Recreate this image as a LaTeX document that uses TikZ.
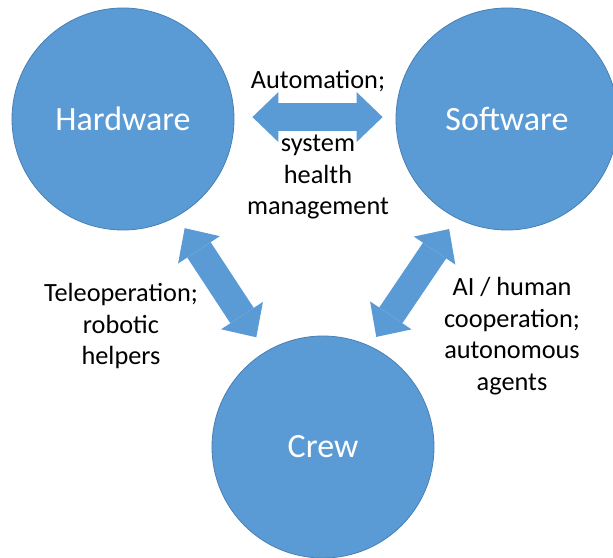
\documentclass[tikz,border=0pt]{standalone}
\usepackage{fontspec}
\setmainfont{Carlito}
\usetikzlibrary{arrows.meta}
\definecolor{bubble}{RGB}{91,155,213}
\definecolor{bubbleline}{RGB}{72,128,180}
\tikzset{
  bubble/.style={circle, fill=bubble, draw=bubbleline, line width=0.8pt,
    minimum size=222pt, inner sep=0pt, text=white,
    font=\fontsize{34}{40}\selectfont},
  link/.style={draw=bubble, line width=28pt,
    {Triangle[length=26pt,width=50pt,line width=0pt]}-{Triangle[length=26pt,width=50pt,line width=0pt]}},
  note/.style={align=center, font=\fontsize{26.3}{31.5}\selectfont}
}
\begin{document}
\begin{tikzpicture}[x=1pt,y=-1pt]
  \useasboundingbox (0,0) rectangle (613,557);
  \clip (0,0) rectangle (613,557);
  \node[bubble] (hw) at (123,119) {Hardware};
  \node[bubble] (sw) at (507,119) {Software};
  \node[bubble] (crew) at (323,447) {Crew};
  \draw[link, shorten <=18pt, shorten >=13pt] (hw.1) -- (sw.179);
  \draw[link, shorten <=14pt, shorten >=17pt] (hw.-61) -- (crew.121);
  \draw[link, shorten <=13pt, shorten >=11pt] (sw.-117) -- (crew.65);
  \node[note] (autotop) at (318,81) {Automation;};
  \node[note] (autobot) at (318,177) {system\\health\\management};
  \node[note] (tele) at (121,326) {Teleoperation;\\robotic\\helpers};
  \node[note] (aihuman) at (512,336) {AI / human\\cooperation;\\autonomous\\agents};
\end{tikzpicture}
\end{document}
